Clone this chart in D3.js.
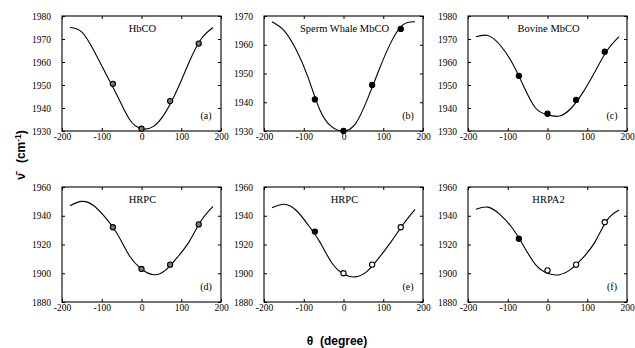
<!DOCTYPE html>
<html>
<head>
<meta charset="utf-8">
<script src="https://cdn.jsdelivr.net/npm/d3@7"></script>
<style>
  body { margin: 0; background: #fff; }
  svg { display: block; }
</style>
</head>
<body>
<svg width="635" height="348"></svg>
<script>
const width = 635;
const height = 348;

const panelIds = ['a', 'b', 'c', 'd', 'e', 'f'];
const panelTitles = ['HbCO', 'Sperm Whale MbCO', 'Bovine MbCO', 'HRPC', 'HRPC', 'HRPA2'];
const yDomains = [[1930, 1980], [1930, 1970], [1930, 1980], [1880, 1960], [1880, 1960], [1880, 1960]];
const yTickSteps = [10, 10, 10, 20, 20, 20];
const xTicks = [-200, -100, 0, 100, 200];

// measured points
const pointTheta = [-72, 0, 72, 144];
const pointNu = [
  [1950.5, 1931, 1943, 1968],
  [1941, 1930, 1946, 1965.5],
  [1954, 1937.5, 1943.5, 1964.5],
  [1932, 1903, 1906, 1934],
  [1929, 1900, 1906, 1932],
  [1924, 1902, 1906, 1935.5]
];
// 'o' open, 'f' filled, 'g' ringed grey
const pointStyle = [
  ['g', 'g', 'g', 'g'],
  ['f', 'f', 'f', 'f'],
  ['f', 'f', 'f', 'f'],
  ['g', 'g', 'g', 'g'],
  ['f', 'o', 'o', 'o'],
  ['f', 'o', 'o', 'o']
];

// fitted curves
const fitTheta = [-180, -150, -120, -90, -60, -30, 0, 30, 60, 90, 120, 150, 180];
const fitNu = [
  [1975, 1973, 1965, 1955, 1945, 1935, 1931, 1932, 1938, 1948, 1960, 1970, 1975],
  [1968, 1965, 1958.5, 1949, 1937.5, 1931.5, 1930, 1932.5, 1941, 1951.5, 1961, 1967, 1968],
  [1971, 1971.5, 1967.5, 1960, 1949.5, 1940, 1937, 1936.5, 1940, 1947, 1956, 1965, 1971],
  [1947, 1950, 1947, 1938.5, 1927, 1912, 1903, 1899, 1902, 1911, 1922, 1936.5, 1946.5],
  [1945.5, 1948, 1944, 1934, 1922, 1907.5, 1899.5, 1897.5, 1901.5, 1911, 1922, 1934, 1944.5],
  [1944.5, 1946, 1941, 1932, 1919, 1906, 1900, 1899, 1903, 1911, 1922, 1937, 1944]
];

const colLeft = [62, 264, 468];
const rowTop = [16, 187];
const pw = 159;
const ph = 115;

const serif = '"Liberation Serif", "DejaVu Serif", serif';
const sans = '"Liberation Sans", Arial, sans-serif';

const svg = d3.select('svg');

panelIds.forEach((id, i) => {
  const left = colLeft[i % 3];
  const top = rowTop[Math.floor(i / 3)];

  const x = d3.scaleLinear().domain([-200, 200]).range([0, pw]);
  const y = d3.scaleLinear().domain(yDomains[i]).range([ph, 0]);
  const yTicks = d3.range(yDomains[i][0], yDomains[i][1] + 0.1, yTickSteps[i]);

  const g = svg.append('g').attr('transform', `translate(${left},${top})`);

  // inward ticks on all sides
  const axB = g.append('g').attr('transform', `translate(0,${ph})`)
      .call(d3.axisBottom(x).tickValues(xTicks).tickSizeInner(-3).tickSizeOuter(0)
          .tickPadding(4).tickFormat(d => d < 0 ? '-' + Math.abs(d) : d));
  const axT = g.append('g')
      .call(d3.axisTop(x).tickValues(xTicks).tickSizeInner(-3).tickSizeOuter(0).tickFormat(''));
  const axL = g.append('g')
      .call(d3.axisLeft(y).tickValues(yTicks).tickSizeInner(-3).tickSizeOuter(0)
          .tickPadding(11).tickFormat(d3.format('d')));
  const axR = g.append('g').attr('transform', `translate(${pw},0)`)
      .call(d3.axisRight(y).tickValues(yTicks).tickSizeInner(-3).tickSizeOuter(0).tickFormat(''));

  [axB, axT, axL, axR].forEach(a => {
    a.select('.domain').remove();
    a.selectAll('text').attr('font-family', serif).attr('font-size', 9.5).attr('fill', '#000');
    a.selectAll('line').attr('stroke', '#000');
  });
  axB.selectAll('text').attr('dy', '0.55em');

  g.append('rect')
      .attr('width', pw).attr('height', ph)
      .attr('fill', 'none').attr('stroke', '#000').attr('stroke-width', 1.1);

  const line = d3.line().x(d => x(d[0])).y(d => y(d[1])).curve(d3.curveNatural);
  g.append('path')
      .datum(fitTheta.map((t, k) => [t, fitNu[i][k]]))
      .attr('d', line)
      .attr('fill', 'none').attr('stroke', '#000').attr('stroke-width', 1.1);

  g.append('g')
    .selectAll('circle')
    .data(pointTheta.map((t, k) => ({t, v: pointNu[i][k], s: pointStyle[i][k]})))
    .join('circle')
      .attr('cx', d => x(d.t))
      .attr('cy', d => y(d.v))
      .attr('r', 2.6)
      .attr('fill', d => d.s === 'f' ? '#000' : d.s === 'g' ? '#777' : '#fff')
      .attr('stroke', '#000')
      .attr('stroke-width', 1.1);

  g.append('text')
      .attr('x', pw / 2 + 1).attr('y', 16)
      .attr('text-anchor', 'middle')
      .attr('font-family', serif).attr('font-size', 10.5)
      .text(panelTitles[i]);

  g.append('text')
      .attr('x', pw - 15).attr('y', ph - 12)
      .attr('text-anchor', 'middle')
      .attr('font-family', serif).attr('font-size', 10)
      .text(`(${id})`);
});

svg.append('text')
    .attr('x', 337).attr('y', 345)
    .attr('text-anchor', 'middle')
    .attr('font-family', sans).attr('font-weight', 'bold').attr('font-size', 12)
    .text('\u03b8\u00a0\u00a0(degree)');

const yt = svg.append('text')
    .attr('transform', 'translate(25,155) rotate(-90)')
    .attr('text-anchor', 'middle')
    .attr('font-family', sans).attr('font-weight', 'bold').attr('font-size', 12);
yt.append('tspan').text('\u03bd\u0304\u00a0\u00a0\u00a0(cm');
yt.append('tspan').attr('dy', -4).attr('font-size', 8.5).text('-1');
yt.append('tspan').attr('dy', 4).text(')');
</script>
</body>
</html>
